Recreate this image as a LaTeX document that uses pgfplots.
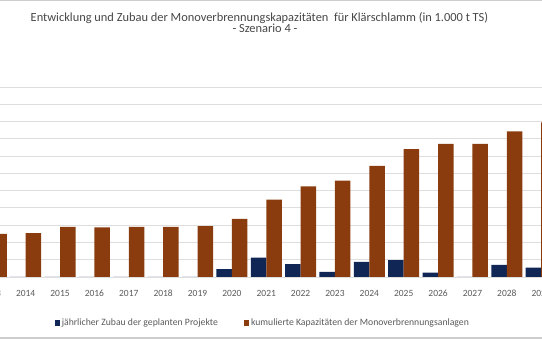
\documentclass[border=0pt]{standalone}
\usepackage{pgfplots}
\pgfplotsset{compat=1.18}
\usepackage{fontspec}
\setmainfont{Carlito}
\definecolor{navybar}{RGB}{16,38,84}
\definecolor{orangebar}{RGB}{138,60,14}
\definecolor{txtgray}{RGB}{89,89,89}
\definecolor{titlegray}{RGB}{70,70,70}
\definecolor{gridgray}{RGB}{222,222,222}
\definecolor{framegray}{RGB}{205,205,205}
\begin{document}
\begin{tikzpicture}
\path[use as bounding box] (0pt,0pt) rectangle (542pt,340pt);
\clip (0pt,0pt) rectangle (542pt,340pt);
\begin{axis}[
  scale only axis,
  width=584.3pt, height=190pt,
  at={(-25.9pt,63pt)}, anchor=south west,
  xmin=-0.5, xmax=16.5,
  ymin=0, ymax=1100,
  ytick={0,100,...,1100},
  yticklabel=\empty,
  ymajorgrids,
  grid style={gridgray, line width=0.9pt},
  axis line style={draw=none},
  major tick length=0pt,
  xtick=data,
  xticklabels={2013,2014,2015,2016,2017,2018,2019,2020,2021,2022,2023,2024,2025,2026,2027,2028,2029},
  xticklabel style={font=\fontsize{9.5}{11}\selectfont, text=txtgray, anchor=base, yshift=-19.5pt},
  ybar, bar width=15.5pt,
  legend style={at={(0.494,-0.242)}, anchor=center, draw=none, fill=none,
    legend columns=2, font=\fontsize{9.7}{11}\selectfont, text=txtgray,
    /tikz/every even column/.append style={column sep=24pt},
    legend cell align=left},
  legend image code/.code={\fill[#1] (0pt,-2.6pt) rectangle (5.2pt,2.6pt);},
]
\addplot[fill=navybar, draw=none, bar shift=-7.75pt] coordinates {
 (0,0) (1,0) (2,0) (3,0) (4,0) (5,0) (6,0) (7,46) (8,112) (9,75) (10,30) (11,87) (12,98) (13,25) (14,0) (15,70) (16,54)};
\addplot[fill=orangebar, draw=none, bar shift=7.75pt] coordinates {
 (0,250) (1,254) (2,290) (3,288) (4,290) (5,290) (6,294) (7,336) (8,448) (9,525) (10,558) (11,643) (12,741) (13,770) (14,770) (15,843) (16,895)};
\legend{jährlicher Zubau der geplanten Projekte, kumulierte Kapazitäten der Monoverbrennungsanlagen}
\end{axis}
\node[anchor=base, inner sep=0pt, text=titlegray, font=\fontsize{12.4}{14}\selectfont] at (259.5pt,318.5pt) {Entwicklung und Zubau der Monoverbrennungskapazitäten\ \ für Klärschlamm (in 1.000 t TS)};
\node[anchor=base, inner sep=0pt, text=titlegray, font=\fontsize{12.4}{14}\selectfont] at (265pt,307pt) {- Szenario 4 -};
\draw[framegray, line width=1.6pt] (0pt,340pt) -- (542pt,340pt);
\draw[framegray, line width=1.2pt] (0pt,2pt) -- (542pt,2pt);
\end{tikzpicture}
\end{document}
